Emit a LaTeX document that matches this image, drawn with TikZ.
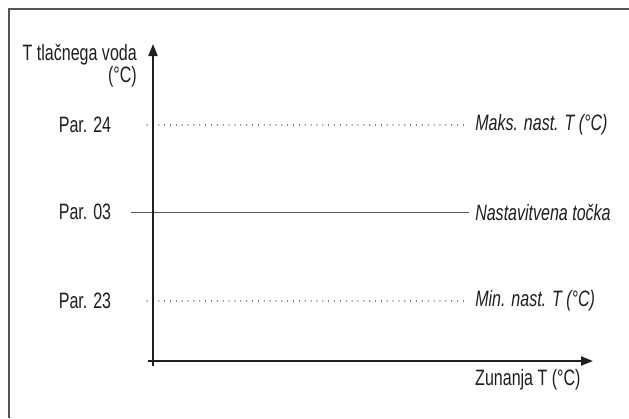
\documentclass[tikz,border=0pt]{standalone}
\usepackage{fontspec}
\usepackage{xcolor}
\usepackage{tikz}
\usetikzlibrary{positioning, arrows.meta}
\newfontfamily\narrowfont[FakeStretch=0.72]{Liberation Sans}
\definecolor{axisblack}{HTML}{231F20}
\definecolor{textgray}{HTML}{1E1E1E}
\definecolor{linegray}{HTML}{555555}
\definecolor{dotgray}{HTML}{6A6A6A}

\begin{document}
\begin{tikzpicture}[
        x=0.03cm, y=-0.03cm,
        font=\narrowfont\fontsize{19}{19}\selectfont,
        lbl/.style={text=textgray, inner sep=0pt},
        setlbl/.style={lbl, font=\narrowfont\itshape\fontsize{19}{19}\selectfont,
                anchor=west},
        axis/.style={-{Triangle[length=0.36cm, width=0.27cm]}, axisblack,
                line width=1.7pt},
        dotline/.style={dotgray, line width=0.9pt, line cap=round,
                dash pattern=on 0.1pt off 4.9pt},
        setline/.style={linegray, line width=0.8pt},
        frame/.style={linegray, line width=1.1pt},
    ]

    \useasboundingbox (0,0) rectangle (629,418);
    \draw[frame] (9,418) -- (9,9) -- (629,9);

    \coordinate (origin) at (153,361);
    \coordinate (ytop) at (153,44);
    \coordinate (xend) at (593,361);

    % parameter rows
    \node[lbl] (par24) at (85,125) {Par. 24};
    \node[lbl] (par03) at (85,212) {Par. 03};
    \node[lbl] (par23) at (85,301) {Par. 23};

    \node[setlbl] (maks) at ([xshift=11.7cm]par24.center) {Maks. nast. T (°C)};
    \node[setlbl] (tocka) at ([xshift=11.7cm]par03.center) {Nastavitvena točka};
    \node[setlbl] (mins) at ([xshift=11.7cm]par23.center) {Min. nast. T (°C)};

    \draw[dotline] ([xshift=1.86cm]par24.center) --
        ([xshift=-0.18cm]maks.west |- par24.center);
    \draw[setline] ([xshift=1.38cm]par03.center) --
        ([xshift=-0.18cm]tocka.west |- par03.center);
    \draw[dotline] ([xshift=1.86cm]par23.center) --
        ([xshift=-0.18cm]mins.west |- par23.center);

    % axes
    \draw[axis] ([yshift=-0.15cm]origin) -- (ytop);
    \draw[axis] ([xshift=-0.15cm]origin) -- (xend);

    \node[lbl, align=right, anchor=north east] (ylab) at (137,44)
        {T tla\v{c}nega voda\\(°C)};
    \node[lbl, anchor=base west] (xlab) at (475,385) {Zunanja T (°C)};
\end{tikzpicture}
\end{document}
